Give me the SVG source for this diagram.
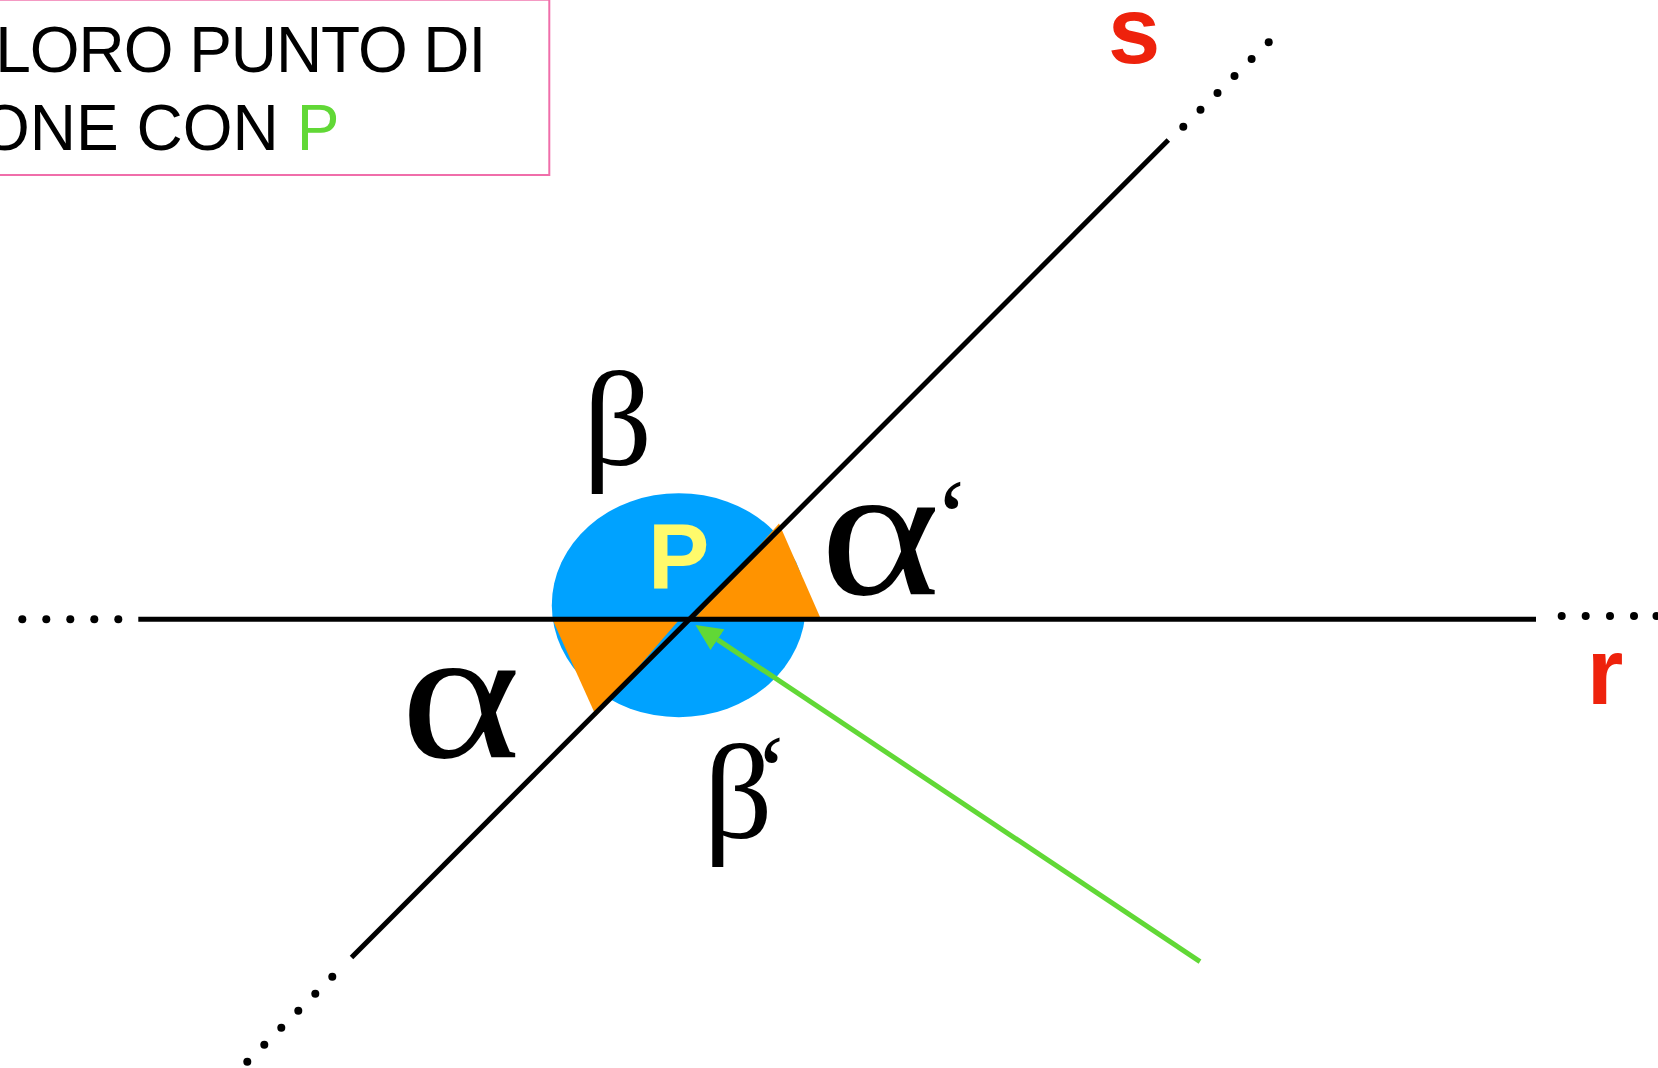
<svg xmlns="http://www.w3.org/2000/svg" width="1658" height="1068" viewBox="0 0 1658 1068">
  <style>
    .ln { stroke: #000; stroke-width: 5; fill: none; stroke-linecap: butt; }
    .dot { fill: #000; }
    .tri { fill: #ff9300; }
    .greek { font-family: "Liberation Serif", "Times New Roman", serif; fill: #000; }
    .title { font-family: "Liberation Sans", Arial, sans-serif; font-size: 64px; fill: #000; }
    .lbl { font-family: "Liberation Sans", Arial, sans-serif; font-weight: bold; fill: #ee220c; font-size: 94px; }
  </style>
  <defs>
    <marker id="arrow" viewBox="0 0 26.5 25" refX="0" refY="12.5" markerWidth="26.5" markerHeight="25" markerUnits="userSpaceOnUse" orient="auto">
      <path d="M0,0 L26.5,12.5 L0,25 z" fill="#61d836"/>
    </marker>
  </defs>
  <rect width="1658" height="1068" fill="#ffffff"/>

  <g id="title-box">
    <rect x="-10" y="-0.3" width="559.3" height="175.3" fill="#ffffff" stroke="#f06eaa" stroke-width="2"/>
    <text class="title" x="-4.7" y="72.3" textLength="491" lengthAdjust="spacing">LORO PUNTO DI</text>
    <text class="title" y="150"><tspan x="-20">ONE CON</tspan><tspan x="296.8" fill="#61d836">P</tspan></text>
  </g>

  <g id="point-P">
    <ellipse cx="678.8" cy="605.2" rx="127" ry="112" fill="#00a2ff"/>
    <polygon class="tri" points="694,619.3 779,523.5 821,619.3"/>
    <polygon class="tri" points="552.7,620 679,620 596,716"/>
    <text x="648" y="589.3" font-family="Liberation Sans, Arial, sans-serif" font-weight="bold" font-size="92" fill="#fffa6b">P</text>
  </g>

  <g id="line-r">
    <line class="ln" x1="138.3" y1="619.3" x2="1536" y2="619.3"/>
    <circle class="dot" cx="22.3" cy="619.3" r="4"/>
    <circle class="dot" cx="46.3" cy="619.3" r="4"/>
    <circle class="dot" cx="70.3" cy="619.3" r="4"/>
    <circle class="dot" cx="94.3" cy="619.3" r="4"/>
    <circle class="dot" cx="118.3" cy="619.3" r="4"/>
    <circle class="dot" cx="1561.7" cy="616" r="4"/>
    <circle class="dot" cx="1585.7" cy="616" r="4"/>
    <circle class="dot" cx="1610" cy="616" r="4"/>
    <circle class="dot" cx="1634" cy="616" r="4"/>
    <circle class="dot" cx="1656.5" cy="616" r="4"/>
    <text class="lbl" x="1586.7" y="704">r</text>
  </g>

  <g id="line-s">
    <line class="ln" x1="351.5" y1="957.5" x2="1168.3" y2="140"/>
    <circle class="dot" cx="1183.3" cy="126.7" r="4"/>
    <circle class="dot" cx="1200.5" cy="109.8" r="4"/>
    <circle class="dot" cx="1217.5" cy="92.9" r="4"/>
    <circle class="dot" cx="1234.5" cy="76" r="4"/>
    <circle class="dot" cx="1251.6" cy="59.1" r="4"/>
    <circle class="dot" cx="1268.7" cy="42.2" r="4"/>
    <circle class="dot" cx="332.3" cy="976.7" r="4"/>
    <circle class="dot" cx="315.3" cy="993.7" r="4"/>
    <circle class="dot" cx="298.3" cy="1010.7" r="4"/>
    <circle class="dot" cx="281.3" cy="1027.7" r="4"/>
    <circle class="dot" cx="264.3" cy="1044.7" r="4"/>
    <circle class="dot" cx="247.3" cy="1061.7" r="4"/>
    <text class="lbl" x="1108" y="62.5">s</text>
  </g>

  <g id="angle-labels">
    <text id="beta" class="greek" x="617.5" y="465" font-size="136" text-anchor="middle">β</text>
    <text id="alpha" class="greek" transform="translate(460.7,756.5) scale(1.22,1)" font-size="188" text-anchor="middle">α</text>
    <g id="alpha-prime">
      <text class="greek" transform="translate(880.2,593.5) scale(1.22,1)" font-size="188" text-anchor="middle">α</text>
      <text class="greek" x="934.5" y="552" font-size="105">‘</text>
    </g>
    <text id="beta-prime" class="greek"><tspan x="738" y="838" font-size="136" text-anchor="middle">β</tspan><tspan x="755" y="804" font-size="100">‘</tspan></text>
  </g>

  <g id="connectors">
    <line x1="1200" y1="961.7" x2="717.5" y2="639.6" stroke="#61d836" stroke-width="5" marker-end="url(#arrow)"/>
  </g>
</svg>
